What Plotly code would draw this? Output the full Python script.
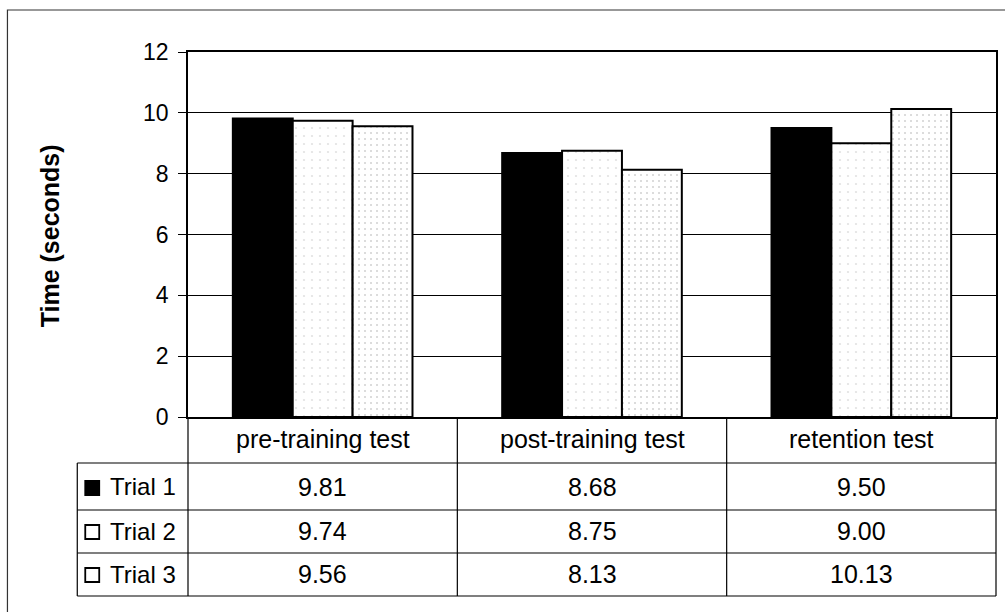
import plotly.graph_objects as go

categories = ["pre-training test", "post-training test", "retention test"]
series_names = ["Trial 1", "Trial 2", "Trial 3"]
trial1 = [9.81, 8.68, 9.50]
trial2 = [9.74, 8.75, 9.00]
trial3 = [9.56, 8.13, 10.13]
series_values = [trial1, trial2, trial3]
y_ticks = [0, 2, 4, 6, 8, 10, 12]

W, H = 1005, 612
ML, MR, MT, MB = 188, 7, 52, 195
PW = W - ML - MR
PH = H - MT - MB
FONT = "Liberation Sans, Arial, sans-serif"


def px(x):
    return (x - ML) / PW


def py(y):
    return (H - MB - y) / PH


fig = go.Figure()
fills = [
    dict(color="black", pattern=None),
    dict(color="white", pattern=dict(shape=".", fgcolor="#c4c4c4", bgcolor="white", size=8, solidity=0.06)),
    dict(color="white", pattern=dict(shape=".", fgcolor="#a8a8a8", bgcolor="white", size=6, solidity=0.1)),
]
for name, vals, f in zip(series_names, series_values, fills):
    marker = dict(color=f["color"], line=dict(color="black", width=2))
    if f["pattern"]:
        marker["pattern"] = f["pattern"]
    fig.add_trace(go.Bar(x=categories, y=vals, name=name, marker=marker, showlegend=False))

fig.update_layout(
    width=W, height=H,
    margin=dict(l=ML, r=MR, t=MT, b=MB),
    paper_bgcolor="white", plot_bgcolor="white",
    barmode="group", bargap=0.333, bargroupgap=0,
    font=dict(family=FONT, size=22, color="black"),
)
fig.update_yaxes(
    range=[0, 12], tickvals=y_ticks, showgrid=True, gridcolor="black", gridwidth=1,
    showline=True, linecolor="black", linewidth=1.5, mirror=True,
    ticks="outside", ticklen=8, tickcolor="black", tickwidth=1,
    tickfont=dict(size=23, family=FONT), ticklabelstandoff=5, zeroline=False,
)
fig.update_xaxes(showticklabels=False, showline=True, linecolor="black", linewidth=1.5, mirror=True, ticks="")

shapes = []
line = dict(color="black", width=1.2)
# outer frame
shapes.append(dict(type="rect", xref="paper", yref="paper", x0=px(7), x1=px(1012), y0=py(10), y1=py(620),
                   line=dict(color="#333", width=1.2)))
# table
col_x = [188, 458, 728, 998]
row_y = [417, 463, 510, 553, 596]
for x in col_x:
    shapes.append(dict(type="line", xref="paper", yref="paper", x0=px(x), x1=px(x), y0=py(417), y1=py(596), line=line))
shapes.append(dict(type="line", xref="paper", yref="paper", x0=px(77), x1=px(77), y0=py(463), y1=py(596), line=line))
for y in row_y[1:]:
    shapes.append(dict(type="line", xref="paper", yref="paper", x0=px(77), x1=px(998), y0=py(y), y1=py(y), line=line))

annotations = []
TF = dict(size=25, family=FONT)
# category headers
for i, c in enumerate(categories):
    cx = (col_x[i] + col_x[i + 1]) / 2
    annotations.append(dict(text=c, x=px(cx), y=py(439), xref="paper", yref="paper", showarrow=False,
                            xanchor="center", yanchor="middle", font=TF))
# rows
row_centers = [487, 531, 574]
for r, (name, vals) in enumerate(zip(series_names, series_values)):
    cy = row_centers[r]
    fillc = "black" if r == 0 else "white"
    shapes.append(dict(type="rect", xref="paper", yref="paper", x0=px(85), x1=px(99), y0=py(cy + 8), y1=py(cy - 6),
                       fillcolor=fillc, line=dict(color="black", width=1.8)))
    annotations.append(dict(text=name, x=px(108), y=py(cy), xref="paper", yref="paper", showarrow=False,
                            xanchor="left", yanchor="middle", font=dict(size=24, family=FONT)))
    for i, v in enumerate(vals):
        cx = (col_x[i] + col_x[i + 1]) / 2
        annotations.append(dict(text=f"{v:.2f}", x=px(cx), y=py(cy), xref="paper", yref="paper", showarrow=False,
                                xanchor="center", yanchor="middle", font=TF))
# y title
annotations.append(dict(text="<b>Time (seconds)</b>", x=px(50), y=py(236), xref="paper", yref="paper",
                        showarrow=False, textangle=-90, xanchor="center", yanchor="middle",
                        font=dict(size=25, family=FONT)))

fig.update_layout(shapes=shapes, annotations=annotations)
fig.write_html("out.html", config={"displayModeBar": False},
               post_script="document.body.style.margin='0';document.body.style.overflow='hidden';")
